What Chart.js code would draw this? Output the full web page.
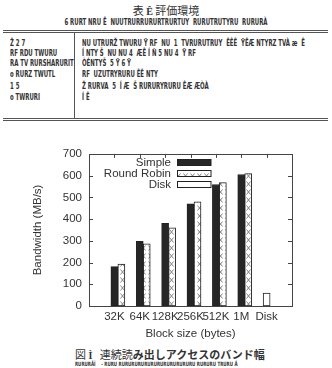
<!DOCTYPE html>
<html>
<head>
<meta charset="utf-8">
<script src="https://cdn.jsdelivr.net/npm/chart.js@4/dist/chart.umd.min.js"></script>
<style>
  body { margin: 0; width: 332px; height: 368px; background: #fff; position: relative; overflow: hidden; }
  .t { position: absolute; white-space: nowrap; color: #333; line-height: 1; }
  .g { font: bold 8px "Liberation Sans Narrow", "DejaVu Sans Condensed", sans-serif; font-stretch: condensed; transform: scaleX(0.75); transform-origin: 0 0; }
  .c { transform-origin: 50% 0; }
  .rule { position: absolute; background: #555; height: 1px; }
  #chartBox { position: absolute; left: 0; top: 140px; width: 332px; height: 206px; }
</style>
</head>
<body>
<!-- table above the chart -->
<div class="t" style="left:0;width:332px;text-align:center;top:2px;font:11px 'Noto Sans CJK JP'">表 <span style="font:bold 10px 'Liberation Sans Narrow'">Ê</span> 評価環境</div>
<div class="t g c" style="left:0;width:332px;text-align:center;top:18px">6 RURT NRU Ê&nbsp; NUUTRURRURURTRURTUY&nbsp; RURUTRUTYRU&nbsp; RURURÀ</div>
<div class="rule" style="left:3px;width:325px;top:30px"></div>
<div class="rule" style="left:3px;width:325px;top:32px"></div>
<div class="rule" style="left:3px;width:325px;top:118px"></div>
<div class="rule" style="left:3px;width:325px;top:120px"></div>
<div style="position:absolute;left:74px;top:33px;width:1px;height:85px;background:#555"></div>

<div class="t g" style="left:10px;top:39px">Ž 2 7</div>
<div class="t g" style="left:10px;top:49px">RF RDU TWURU</div>
<div class="t g" style="left:10px;top:59px">RA TV RURSHARURIT</div>
<div class="t g" style="left:10px;top:70px">o RURZ TWUTL</div>
<div class="t g" style="left:10px;top:82px">1 5</div>
<div class="t g" style="left:10px;top:93px">o TWRURI</div>

<div class="t g" style="left:82px;top:39px">NU UTRURŽ TWURU Ÿ RF&nbsp; NU&nbsp; 1&nbsp; TVRURUTRUY&nbsp; ÊÊÊ&nbsp; ŸÊÆ NTYRZ TVÀ æ&nbsp; Ê</div>
<div class="t g" style="left:82px;top:49px">Í NTY Š&nbsp; NU NU 4&nbsp; ÆÊ Í Ñ 5 NU 4&nbsp; Ÿ RF</div>
<div class="t g" style="left:82px;top:59px">ÒÉNTYŠ&nbsp; 5 Ÿ 6 Ÿ</div>
<div class="t g" style="left:82px;top:70px">RF&nbsp; UZUTRYRURU ÊÊ NTY</div>
<div class="t g" style="left:82px;top:82px">Ž RURVA&nbsp; 5&nbsp; Í Æ&nbsp; Š RURURYRURU ÊÆ ÆÒÀ</div>
<div class="t g" style="left:82px;top:93px">Í Ê</div>

<div id="chartBox"><canvas id="chart" width="332" height="206"></canvas></div>

<!-- figure caption -->
<div class="t" style="left:75px;top:346px;font:11px 'Noto Sans CJK JP'">図 <span style="font:bold 10px 'Liberation Sans Narrow'">Ì</span>&nbsp;&nbsp; 連続読<b>み出しアクセスのバンド幅</b></div>
<div class="t g" style="left:75px;top:360px;font-size:6px">RURURÅÍ&nbsp;&nbsp;&nbsp; - RURU RURURURURURURURURURURURU RURURU TRURU Å</div>

<script>
// values
const blockSizes = ['32K', '64K', '128K', '256K', '512K', '1M'];
const diskLabel = 'Disk';
const simple = [181, 298, 380, 470, 559, 605];
const roundRobin = [193, 286, 360, 479, 568, 610];
const diskValue = 60;
const yMax = 700;
const yStep = 100;

// empty slots at both ends keep the gnuplot-like margins
const xLabels = ['', ...blockSizes, diskLabel, ''];
const blanks = blockSizes.map(() => null);
const simpleData = [null, ...simple, null, null];
const rrData = [null, ...roundRobin, null, null];
const diskData = [null, ...blanks, diskValue, null];
const padData = xLabels.map(() => null);

const FONT = "'Liberation Sans', Arial, sans-serif";
const INK = '#333';

function crossPattern() {
  const c = document.createElement('canvas');
  c.width = 7; c.height = 8;
  const g = c.getContext('2d');
  g.fillStyle = '#fff';
  g.fillRect(0, 0, 7, 8);
  g.strokeStyle = '#777';
  g.lineWidth = 0.9;
  g.beginPath();
  g.moveTo(1.5, 1.5); g.lineTo(5.5, 6.5);
  g.moveTo(5.5, 1.5); g.lineTo(1.5, 6.5);
  g.stroke();
  return document.getElementById('chart').getContext('2d').createPattern(c, 'repeat');
}

// box, inward ticks and a gnuplot style key
const framePlugin = {
  id: 'frame',
  afterDatasetsDraw(chart) {
    const { ctx, chartArea: a, scales: { x, y } } = chart;
    ctx.save();
    ctx.strokeStyle = '#444';
    ctx.lineWidth = 1;
    ctx.beginPath();
    for (let v = yStep; v < yMax; v += yStep) {
      const py = Math.round(y.getPixelForValue(v)) + 0.5;
      ctx.moveTo(a.left, py); ctx.lineTo(a.left + 4, py);
      ctx.moveTo(a.right, py); ctx.lineTo(a.right - 4, py);
    }
    for (let i = 1; i < xLabels.length - 1; i++) {
      const px = Math.round(x.getPixelForValue(i)) + 0.5;
      ctx.moveTo(px, a.top); ctx.lineTo(px, a.top + 4);
    }
    ctx.stroke();
    ctx.strokeRect(Math.round(a.left) + 0.5, Math.round(a.top) + 0.5,
      Math.round(a.right - a.left), Math.round(a.bottom - a.top));

    // key
    const entries = chart.data.datasets.filter(d => d.label);
    ctx.font = '11.5px ' + FONT;
    ctx.textAlign = 'right';
    ctx.textBaseline = 'middle';
    entries.forEach((d, i) => {
      const cy = 22.5 + i * 11;
      ctx.fillStyle = INK;
      ctx.fillText(d.label, 171, cy + 0.5);
      ctx.fillStyle = d.backgroundColor;
      ctx.fillRect(177.5, cy - 3, 33.5, 6);
      ctx.strokeStyle = '#222';
      ctx.strokeRect(177.5, cy - 3, 33.5, 6);
    });
    ctx.restore();
  }
};

const hatch = crossPattern();
const common = { barThickness: 7, borderWidth: 1, borderSkipped: false, borderColor: '#222' };

new Chart(document.getElementById('chart'), {
  type: 'bar',
  data: {
    labels: xLabels,
    datasets: [
      { ...common, data: padData, stack: 'pad', backgroundColor: 'rgba(0,0,0,0)' },
      { ...common, label: 'Simple', data: simpleData, stack: 'main', backgroundColor: '#262626' },
      { ...common, label: 'Round Robin', data: rrData, stack: 'rr', backgroundColor: hatch },
      { ...common, label: 'Disk', data: diskData, stack: 'main', backgroundColor: '#fff' }
    ]
  },
  options: {
    responsive: false,
    animation: false,
    layout: { padding: { top: 11, right: 40, left: 0, bottom: 0 } },
    plugins: { legend: { display: false }, tooltip: { enabled: false } },
    scales: {
      x: {
        type: 'category',
        offset: false,
        stacked: true,
        grid: { display: false, drawTicks: false },
        border: { display: false },
        ticks: { autoSkip: false, maxRotation: 0, padding: 4, color: INK, font: { family: FONT, size: 11.5 } },
        title: { display: true, text: 'Block size (bytes)', color: INK, font: { family: FONT, size: 11.5 }, padding: { bottom: 5 } },
        afterFit(s) { s.height = 40; }
      },
      y: {
        min: 0,
        max: yMax,
        stacked: false,
        grid: { display: false, drawTicks: false },
        border: { display: false },
        ticks: { stepSize: yStep, padding: 7, color: INK, font: { family: FONT, size: 11.5 } },
        title: { display: true, text: 'Bandwidth (MB/s)', color: INK, font: { family: FONT, size: 11.5 }, padding: { top: 31 } },
        afterFit(s) { s.width = 89; }
      }
    }
  },
  plugins: [framePlugin]
});
</script>
</body>
</html>
